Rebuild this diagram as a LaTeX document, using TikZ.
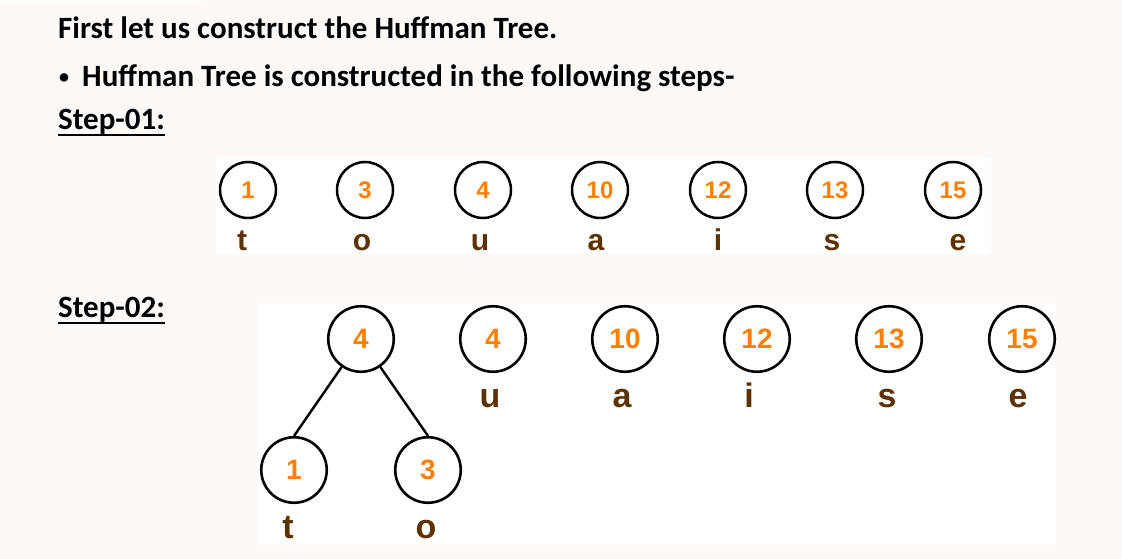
\documentclass[tikz,border=0pt]{standalone}
\usepackage{fontspec}
\setmainfont{Carlito}
\newfontfamily\arialf{Liberation Sans}
\definecolor{bgc}{HTML}{FDF9F6}
\definecolor{numc}{HTML}{FF8000}
\definecolor{letc}{HTML}{5C3300}
\begin{document}
\begin{tikzpicture}[x=1pt,y=-1pt,
  head/.style={anchor=base west,inner sep=0pt,font=\bfseries\fontsize{31}{31}\selectfont},
  nA/.style={circle,draw=black,line width=2.5pt,minimum size=56pt,inner sep=0pt,text=numc,font=\arialf\bfseries\fontsize{24}{24}\selectfont},
  lA/.style={anchor=base,inner sep=0pt,text=letc,font=\arialf\bfseries\fontsize{30}{30}\selectfont},
  nB/.style={circle,draw=black,line width=2.6pt,minimum size=65.5pt,inner sep=0pt,text=numc,font=\arialf\bfseries\fontsize{28}{28}\selectfont},
  lB/.style={anchor=base,inner sep=0pt,text=letc,font=\arialf\bfseries\fontsize{34}{34}\selectfont},
  edge/.style={line width=2.4pt,draw=black}]
\useasboundingbox (0,0) rectangle (1122,559);
\fill[bgc] (0,0) rectangle (1122,559);
\fill[white] (0,0) rectangle (205,2);
% headings
\node[head] (h1) at (58,39) {First let us construct the Huffman Tree.};
\node[head,font=\bfseries\fontsize{20}{20}\selectfont] (b1) at (59,84) {•};
\node[head] (h2) at (82,87) {Huffman Tree is constructed in the following steps-};
\node[head] (s1) at (58,130) {Step-01:};
\draw[line width=2pt] ([yshift=-5.5pt]s1.base west) -- ([yshift=-5.5pt]s1.base east);
\node[head] (s2) at (58,317) {Step-02:};
\draw[line width=2pt] ([yshift=-5.5pt]s2.base west) -- ([yshift=-5.5pt]s2.base east);
% step 1
\fill[white] (216,158) rectangle (991,254);
\foreach \x/\n/\lx/\l [count=\i] in {248/1/242/t,365/3/362/o,483/4/480/u,600/10/596/a,718/12/718/i,835/13/832/s,953/15/958/e}{
  \node[nA] (a\i) at (\x,190) {\n};
  \node[lA] (al\i) at (\lx,250) {\l};
}
% step 2
\fill[white] (258,303) rectangle (1056,545);
\node[nB] (p) at (361,339) {4};
\node[nB] (c1) at (294,470) {1};
\node[nB] (c2) at (428,470) {3};
\node[lB] (ct) at (288,538) {t};
\node[lB] (co) at (426,538) {o};
\draw[edge] (p) -- (c1.north);
\draw[edge] (p) -- (c2.north);
\foreach \x/\n/\lx/\l [count=\i] in {493/4/490/u,625/10/622/a,757/12/749/i,889/13/887/s,1022/15/1018/e}{
  \node[nB] (b\i) at (\x,339) {\n};
  \node[lB] (bl\i) at (\lx,407) {\l};
}
\end{tikzpicture}
\end{document}
